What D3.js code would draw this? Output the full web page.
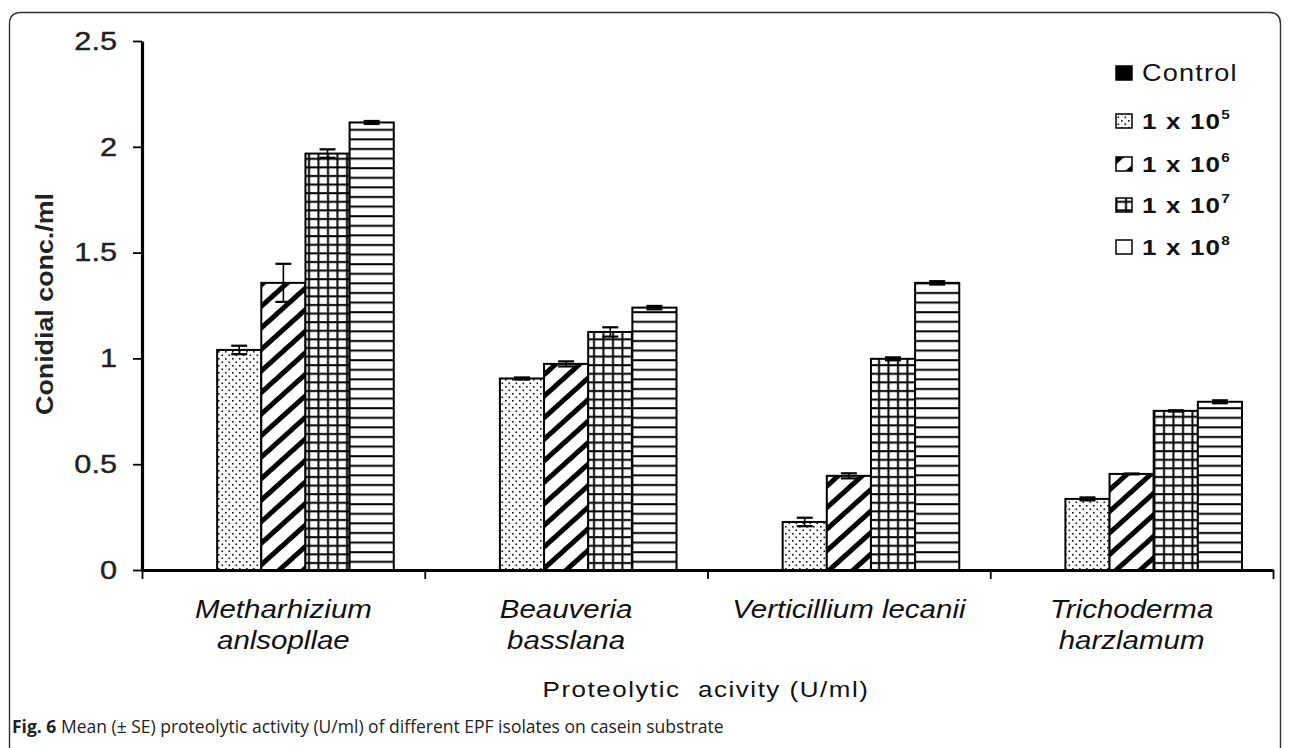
<!DOCTYPE html>
<html><head><meta charset="utf-8">
<script src="https://cdn.jsdelivr.net/npm/d3@7"></script>
<style>body{margin:0;background:#fff}svg{display:block}</style>
</head><body><svg id="c" width="1290" height="748"></svg>
<script>
// ---------- DATA ----------
const categories = ["Metharhizium anlsopllae", "Beauveria basslana", "Verticillium lecanii", "Trichoderma harzlamum"];
const categoryLines = [["Metharhizium", "anlsopllae"], ["Beauveria", "basslana"], ["Verticillium lecanii"], ["Trichoderma", "harzlamum"]];
const seriesNames = ["Control", "1 x 10^5", "1 x 10^6", "1 x 10^7", "1 x 10^8"];
const seriesExponents = [null, "5", "6", "7", "8"];
const controlValues = [0, 0, 0, 0];
const controlErrors = [0, 0, 0, 0];
const conc1e5Values = [1.04, 0.905, 0.227, 0.336];
const conc1e5Errors = [0.02, 0.005, 0.02, 0.007];
const conc1e6Values = [1.357, 0.974, 0.445, 0.454];
const conc1e6Errors = [0.09, 0.012, 0.012, 0.002];
const conc1e7Values = [1.968, 1.125, 0.998, 0.752];
const conc1e7Errors = [0.02, 0.022, 0.007, 0.003];
const conc1e8Values = [2.115, 1.24, 1.357, 0.795];
const conc1e8Errors = [0.007, 0.008, 0.008, 0.007];
const yTicks = [0, 0.5, 1, 1.5, 2, 2.5];
const yTickLabels = ["0", "0.5", "1", "1.5", "2", "2.5"];
const yTitle = "Conidial conc./ml";
const xTitle = "Proteolytic  acivity (U/ml)";
const captionBold = "Fig. 6";
const captionText = " Mean (± SE) proteolytic activity (U/ml) of different EPF isolates on casein substrate";

const seriesValues = [controlValues, conc1e5Values, conc1e6Values, conc1e7Values, conc1e8Values];
const seriesErrors = [controlErrors, conc1e5Errors, conc1e6Errors, conc1e7Errors, conc1e8Errors];

// ---------- LAYOUT ----------
const svg = d3.select("#c");
const plot = {left: 142, right: 1273, top: 41, bottom: 570};
const FONT = "'Liberation Sans', Arial, sans-serif";
const SX = 1.18; // horizontal stretch of the source picture text

// frame
svg.append("path")
  .attr("d", "M9.5,748 L9.5,24 Q9.5,12.5 21,12.5 L1269,12.5 Q1280.5,12.5 1280.5,24 L1280.5,748")
  .attr("fill", "none").attr("stroke", "#333").attr("stroke-width", 1.4);

// patterns
const defs = svg.append("defs");
const pDots = defs.append("pattern").attr("id", "pDots").attr("patternUnits", "userSpaceOnUse")
  .attr("width", 7).attr("height", 7);
pDots.append("rect").attr("width", 7).attr("height", 7).attr("fill", "#fff");
pDots.append("rect").attr("x", 1).attr("y", 1).attr("width", 1.6).attr("height", 1.6).attr("fill", "#111");
pDots.append("rect").attr("x", 4.5).attr("y", 4.5).attr("width", 1.6).attr("height", 1.6).attr("fill", "#111");

const pDiag = defs.append("pattern").attr("id", "pDiag").attr("patternUnits", "userSpaceOnUse")
  .attr("width", 16).attr("height", 16).attr("patternTransform", "rotate(48)");
pDiag.append("rect").attr("width", 16).attr("height", 16).attr("fill", "#fff");
pDiag.append("rect").attr("x", 0).attr("width", 5).attr("height", 16).attr("fill", "#000");

const pGrid = defs.append("pattern").attr("id", "pGrid").attr("patternUnits", "userSpaceOnUse")
  .attr("width", 9.5).attr("height", 8.6);
pGrid.append("rect").attr("width", 9.5).attr("height", 8.6).attr("fill", "#fff");
pGrid.append("rect").attr("x", 4).attr("width", 2).attr("height", 8.6).attr("fill", "#000");
pGrid.append("rect").attr("y", 3).attr("width", 9.5).attr("height", 2).attr("fill", "#000");

const pHoriz = defs.append("pattern").attr("id", "pHoriz").attr("patternUnits", "userSpaceOnUse")
  .attr("width", 10).attr("height", 9.6);
pHoriz.append("rect").attr("width", 10).attr("height", 9.6).attr("fill", "#fff");
pHoriz.append("rect").attr("y", 4).attr("width", 10).attr("height", 2).attr("fill", "#000");

const fills = ["#000", "url(#pDots)", "url(#pDiag)", "url(#pGrid)", "url(#pHoriz)"];

// scales
const x0 = d3.scaleBand().domain(categories).range([plot.left, plot.right]).paddingInner(0).paddingOuter(0);
const x1 = d3.scaleBand().domain(seriesNames).range([31, x0.bandwidth() - 31]).padding(0);
const y = d3.scaleLinear().domain([0, 2.5]).range([plot.bottom, plot.top]);

// bars
const data = categories.flatMap((c, ci) => seriesNames.map((s, si) => ({
  c, s, si, v: seriesValues[si][ci], e: seriesErrors[si][ci]
})));

const bars = svg.append("g");
bars.selectAll("rect").data(data.filter(d => d.si > 0)).join("rect")
  .attr("x", d => x0(d.c) + x1(d.s))
  .attr("y", d => y(d.v))
  .attr("width", x1.bandwidth())
  .attr("height", d => y(0) - y(d.v))
  .attr("fill", d => fills[d.si])
  .attr("stroke", "#000").attr("stroke-width", 2);

// error bars
const eb = svg.append("g").attr("stroke", "#000");
const capW = 16;
data.filter(d => d.si > 0).forEach(d => {
  const cx = x0(d.c) + x1(d.s) + x1.bandwidth() / 2;
  const yt = y(d.v + d.e), yb = y(d.v - d.e);
  eb.append("line").attr("x1", cx).attr("x2", cx).attr("y1", yt).attr("y2", yb).attr("stroke-width", 1.6);
  eb.append("line").attr("x1", cx - capW / 2).attr("x2", cx + capW / 2).attr("y1", yt).attr("y2", yt).attr("stroke-width", 2.2);
  eb.append("line").attr("x1", cx - capW / 2).attr("x2", cx + capW / 2).attr("y1", yb).attr("y2", yb).attr("stroke-width", 2.2);
});

// y axis
const yAxis = svg.append("g").attr("transform", `translate(${plot.left},0)`)
  .call(d3.axisLeft(y).tickValues(yTicks).tickSize(9).tickPadding(16).tickSizeOuter(0)
    .tickFormat((d, i) => yTickLabels[i]));
yAxis.select(".domain").attr("stroke", "#000").attr("stroke-width", 3.2);
yAxis.selectAll(".tick line").attr("stroke", "#000").attr("stroke-width", 1.8);
yAxis.selectAll(".tick text").each(function () {
  const t = d3.select(this);
  const xx = +t.attr("x");
  t.attr("x", 0).attr("transform", `translate(${xx},0) scale(${SX},1)`);
}).attr("font-family", FONT).attr("font-size", 26).attr("fill", "#222")
  .attr("stroke", "#222").attr("stroke-width", 0.4);

// x axis
const xIdx = d3.scaleLinear().domain([0, categories.length]).range([plot.left, plot.right]);
const xAxis = svg.append("g").attr("transform", `translate(0,${plot.bottom})`)
  .call(d3.axisBottom(xIdx).tickValues(d3.range(categories.length + 1)).tickSize(9).tickSizeOuter(0).tickFormat(""));
xAxis.select(".domain").attr("stroke", "#000").attr("stroke-width", 3.2);
xAxis.selectAll(".tick line").attr("stroke", "#000").attr("stroke-width", 1.8);

// category labels
categories.forEach((c, ci) => {
  const cx = x0(c) + x0.bandwidth() / 2;
  categoryLines[ci].forEach((line, li) => {
    svg.append("text")
      .attr("transform", `translate(${cx},${618 + li * 31}) scale(${SX},1)`)
      .attr("text-anchor", "middle").attr("font-family", FONT).attr("font-style", "italic")
      .attr("font-size", 25).attr("fill", "#111").text(line);
  });
});

// axis titles
svg.append("text")
  .attr("transform", `translate(706,697) scale(${SX},1)`)
  .attr("text-anchor", "middle").attr("font-family", FONT).attr("font-size", 22)
  .attr("letter-spacing", 1.3).attr("fill", "#111").style("white-space", "pre").text(xTitle);

svg.append("text")
  .attr("transform", "translate(53,304) rotate(-90)")
  .attr("text-anchor", "middle").attr("font-family", FONT).attr("font-weight", "bold")
  .attr("font-size", 23).attr("fill", "#222").attr("textLength", 222).attr("lengthAdjust", "spacingAndGlyphs")
  .text(yTitle);

// legend
const legendRows = [73, 121, 164, 205, 247];
const lg = svg.append("g");
seriesNames.forEach((s, si) => {
  const ry = legendRows[si];
  const legendFill = si === 4 ? "#fff" : fills[si];
  lg.append("rect").attr("x", 1116).attr("y", ry - 7).attr("width", 16).attr("height", 14)
    .attr("fill", legendFill).attr("stroke", "#000").attr("stroke-width", 1.5);
  const t = lg.append("text")
    .attr("transform", `translate(1142,${ry + 8}) scale(${SX},1)`)
    .attr("font-family", FONT).attr("fill", "#111");
  if (seriesExponents[si] === null) {
    t.attr("font-size", 23).attr("letter-spacing", 1).text(s);
  } else {
    t.attr("font-size", 22).attr("font-weight", "bold").attr("letter-spacing", 1);
    t.append("tspan").text("1 x 10");
    t.append("tspan").attr("font-size", 13).attr("dy", -10).text(seriesExponents[si]);
  }
});

// caption
const cap = svg.append("text").attr("x", 12).attr("y", 733)
  .attr("font-family", "'Open Sans', 'Noto Sans', sans-serif").attr("font-size", 17.5).attr("fill", "#222");
cap.append("tspan").attr("font-weight", "bold").text(captionBold);
cap.append("tspan").text(captionText);
</script></body></html>
